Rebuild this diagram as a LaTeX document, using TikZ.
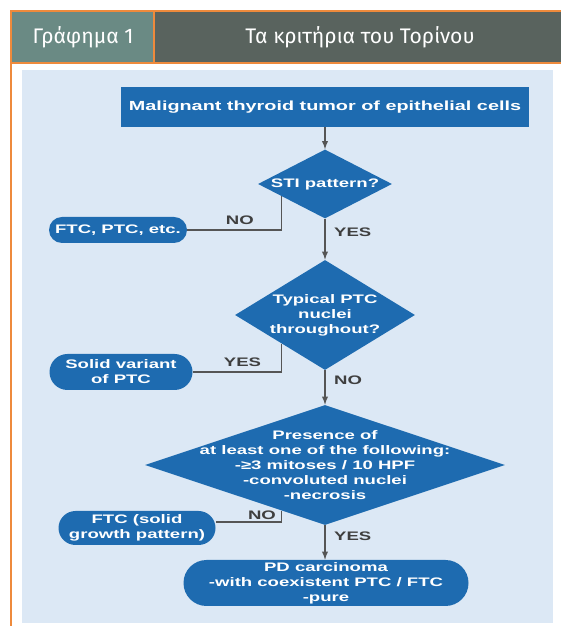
\documentclass[tikz,border=0pt]{standalone}
\usepackage{fontspec}
\setmainfont{Liberation Sans}
\newfontfamily\headfont{Fira Sans}
\newfontfamily\chartfont[FakeStretch=1.5]{Liberation Sans}
\usetikzlibrary{shapes.geometric,shapes.misc,calc}
\definecolor{headteal}{HTML}{6A8A84}
\definecolor{headdark}{HTML}{59635E}
\definecolor{frameorange}{HTML}{EE8A3C}
\definecolor{panelblue}{HTML}{DCE8F5}
\definecolor{chartblue}{HTML}{1E6BB0}
\definecolor{linegray}{HTML}{555555}
\definecolor{labelgray}{HTML}{3F3F3F}

\begin{document}
\begin{tikzpicture}[
	charttext/.style={text=white, font=\chartfont\bfseries\fontsize{8.8}{10.6}\selectfont, align=center},
	box/.style={charttext, fill=chartblue, inner sep=0pt},
	decision/.style={diamond, fill=chartblue, inner sep=0pt},
	oval/.style={charttext, rounded rectangle, fill=chartblue, inner sep=0pt},
	link/.style={draw=linegray, line width=1pt},
	arrow/.style={link, -latex},
	lbl/.style={text=labelgray, font=\chartfont\bfseries\fontsize{8.8}{10.6}\selectfont, inner sep=1pt},
	headtxt/.style={text=white, font=\headfont\fontsize{15}{18}\selectfont},
	frame/.style={draw=frameorange, line width=1pt}
]
		\useasboundingbox (0,0) rectangle (14.025cm,15.65cm);
		% header
		\fill[headteal] (0.275cm,14.075cm) rectangle (3.85cm,15.375cm);
		\fill[headdark] (3.85cm,14.075cm) rectangle (14.025cm,15.375cm);
		\node[headtxt] (num) at (2.075cm,14.725cm) {Γράφημα 1};
		\node[headtxt] (title) at (9.0cm,14.725cm) {Τα κριτήρια του Τορίνου};
		\draw[frame] (14.025cm,15.375cm) -- (0.275cm,15.375cm) -- (0.275cm,0);
		\draw[frame] (0.275cm,14.075cm) -- (14.025cm,14.075cm);
		\draw[frame] (3.85cm,15.375cm) -- (3.85cm,14.075cm);
		\fill[panelblue] (0.55cm,0.075cm) rectangle (13.825cm,13.9cm);

		% flowchart
		\node[box, font=\chartfont\bfseries\fontsize{9.4}{11}\selectfont, minimum width=10.2cm, minimum height=1cm] (tumor) at (8.125cm,12.975cm) {Malignant thyroid tumor of epithelial cells};
		\node[decision, minimum width=3.35cm, minimum height=1.725cm, label={[charttext]center:STI pattern?}] (sti) at (8.125cm,11.05cm) {};
		\node[oval, minimum width=3.45cm, minimum height=0.65cm] (ftc) at (2.95cm,9.9cm) {FTC, PTC, etc.};
		\node[decision, minimum width=4.5cm, minimum height=2.75cm, label={[charttext]center:Typical PTC\\nuclei\\throughout?}] (ptc) at (8.125cm,7.775cm) {};
		\node[oval, minimum width=3.575cm, minimum height=0.9cm] (solid) at (3.025cm,6.35cm) {Solid variant\\of PTC};
		\node[decision, minimum width=9cm, minimum height=3cm, label={[charttext]center:Presence of\\at least one of the following:\\-≥3 mitoses / 10 HPF\\-convoluted nuclei\\-necrosis}] (pres) at (8.125cm,4.025cm) {};
		\node[oval, minimum width=3.925cm, minimum height=0.85cm] (fgp) at (3.425cm,2.45cm) {FTC (solid\\growth pattern)};
		\node[oval, minimum width=7.125cm, minimum height=1.15cm] (pd) at (8.15cm,1.075cm) {PD carcinoma\\-with coexistent PTC / FTC\\-pure};

		\coordinate (stiNo) at ($(sti.south)!0.65!(sti.west)$);
		\coordinate (ptcYes) at ($(ptc.south)!0.48!(ptc.west)$);
		\coordinate (presNo) at ($(pres.south)!0.24!(pres.west)$);

		\draw[arrow] (tumor) -- (sti);
		\draw[arrow] (sti) -- (ptc) node[lbl, pos=0.33, right=5pt] {YES};
		\draw[link] (stiNo) |- (ftc.east) node[lbl, pos=0.72, above=2pt] {NO};
		\draw[arrow] (ptc) -- (pres) node[lbl, pos=0.3, right=5pt] {NO};
		\draw[link] (ptcYes) |- (solid.east) node[lbl, pos=0.72, above=2pt] {YES};
		\draw[arrow] (pres) -- (pres |- pd.north) node[lbl, pos=0.33, right=5pt] {YES};
		\draw[link] (presNo) |- ([yshift=0.15cm]fgp.east) node[lbl, pos=0.65, above=0pt] {NO};
\end{tikzpicture}
\end{document}
